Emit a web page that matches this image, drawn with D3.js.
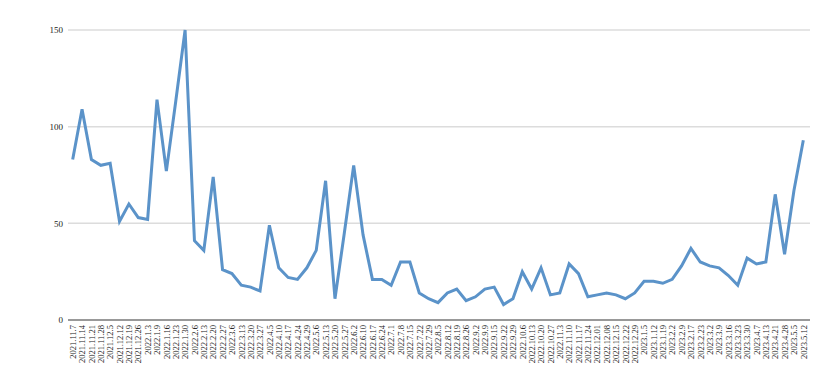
<!DOCTYPE html>
<html><head><meta charset="utf-8">
<script src="https://cdn.jsdelivr.net/npm/d3@7"></script>
<style>body{margin:0;background:#fff}svg{display:block}</style>
</head><body><svg id="c" width="832" height="384"></svg>
<script>
const categories = ["2021.11.7","2021.11.14","2021.11.21","2021.11.28","2021.12.5","2021.12.12","2021.12.19","2021.12.26","2022.1.3","2022.1.9","2022.1.16","2022.1.23","2022.1.30","2022.2.6","2022.2.13","2022.2.20","2022.2.27","2022.3.6","2022.3.13","2022.3.20","2022.3.27","2022.4.5","2022.4.10","2022.4.17","2022.4.24","2022.4.29","2022.5.6","2022.5.13","2022.5.20","2022.5.27","2022.6.2","2022.6.10","2022.6.17","2022.6.24","2022.7.1","2022.7.8","2022.7.15","2022.7.22","2022.7.29","2022.8.5","2022.8.12","2022.8.19","2022.8.26","2022.9.2","2022.9.9","2022.9.15","2022.9.22","2022.9.29","2022.10.6","2022.10.13","2022.10.20","2022.10.27","2022.11.3","2022.11.10","2022.11.17","2022.11.24","2022.12.01","2022.12.08","2022.12.15","2022.12.22","2022.12.29","2023.1.5","2023.1.12","2023.1.19","2023.2.2","2023.2.9","2023.2.17","2023.2.23","2023.3.2","2023.3.9","2023.3.16","2023.3.23","2023.3.30","2023.4.7","2023.4.13","2023.4.21","2023.4.28","2023.5.5","2023.5.12"];
const values = [83,109,83,80,81,51,60,53,52,114,77,113,150,41,36,74,26,24,18,17,15,49,27,22,21,27,36,72,11,45,80,44,21,21,18,30,30,14,11,9,14,16,10,12,16,17,8,11,25,16,27,13,14,29,24,12,13,14,13,11,14,20,20,19,21,28,37,30,28,27,23,18,32,29,30,65,34,67,93];
const yTicks = [0,50,100,150];

const svg = d3.select("#c");
const x = d3.scalePoint().domain(categories).range([68,808]).padding(0.5);
const y = d3.scaleLinear().domain([0,150]).range([320,30]);

// gridlines
svg.append("g").selectAll("line").data(yTicks.filter(d=>d>0)).join("line")
  .attr("x1",68).attr("x2",810).attr("y1",d=>y(d)).attr("y2",d=>y(d))
  .attr("stroke","#dcdcdc").attr("stroke-width",1.5);

// y axis labels
const yAxis = d3.axisLeft(y).tickValues(yTicks).tickSize(0).tickPadding(5);
const gy = svg.append("g").attr("transform","translate(68,0)").call(yAxis);
gy.select(".domain").remove();
gy.selectAll("text").attr("font-family","Liberation Serif").attr("font-size",9).attr("fill","#222");

// x axis
const xAxis = d3.axisBottom(x).tickSize(0).tickPadding(4);
const gx = svg.append("g").attr("transform","translate(0,320)").call(xAxis);
gx.select(".domain").attr("d","M68,0H810").attr("stroke","#999").attr("stroke-width",2);
gx.selectAll("text")
  .attr("font-family","Liberation Serif").attr("font-size",8.5).attr("fill","#222")
  .attr("text-anchor","end").attr("dy","0.32em")
  .attr("transform","rotate(-90)").attr("x",-5).attr("y",0);

// line
const line = d3.line().x((d,i)=>x(categories[i])).y(d=>y(d));
svg.append("path").datum(values).attr("d",line)
  .attr("fill","none").attr("stroke","#5b93c9").attr("stroke-width",3)
  .attr("stroke-linejoin","miter").attr("stroke-miterlimit",4);
</script></body></html>
